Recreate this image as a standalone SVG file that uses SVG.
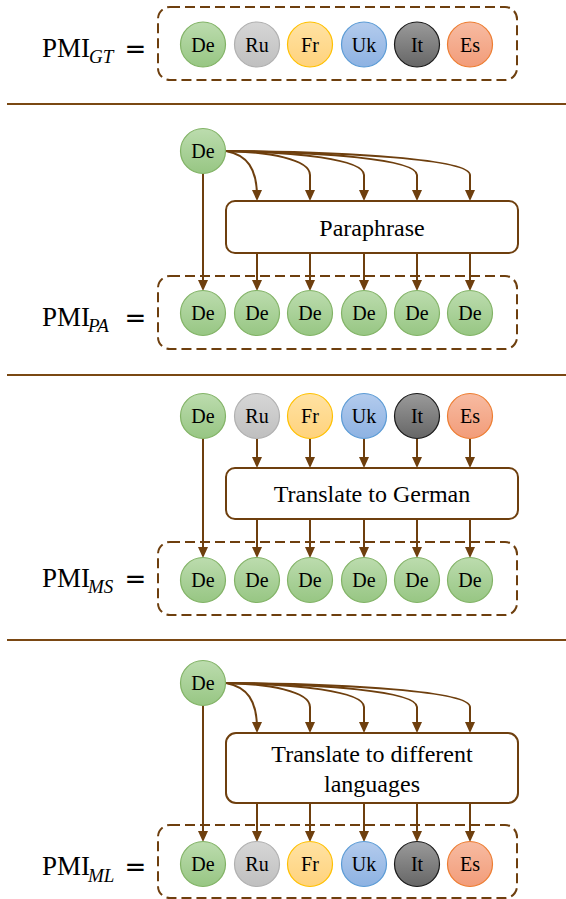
<svg xmlns="http://www.w3.org/2000/svg" width="566" height="899" viewBox="0 0 566 899">
<style>
.sep{stroke:#7a4813;stroke-width:2}
.dash{fill:none;stroke:#6e3f0e;stroke-width:2;stroke-dasharray:10 5}
.box{fill:#fff;stroke:#6e3f0e;stroke-width:2}
.ct{font-family:"Liberation Serif","Times New Roman",serif;font-size:20px;text-anchor:middle;fill:#000}
.bt{font-family:"Liberation Serif","Times New Roman",serif;font-size:24px;text-anchor:middle;fill:#000}
.pmi{font-family:"Liberation Serif","Times New Roman",serif;font-size:27px;fill:#000}
.sub{font-family:"Liberation Serif","Times New Roman",serif;font-size:19px;font-style:italic;fill:#000}
.eq{font-family:"DejaVu Sans",sans-serif;font-size:26px;text-anchor:middle;fill:#000}
.c{stroke-width:1.2}
.de{fill:url(#gDe);stroke:#82b366}
.ru{fill:url(#gRu);stroke:#b0b0b0}
.fr{fill:url(#gFr);stroke:#ffc000}
.uk{fill:url(#gUk);stroke:#5b9bd5}
.it{fill:url(#gIt);stroke:#1a1a1a}
.es{fill:url(#gEs);stroke:#ed7d31}
.ar{fill:none;stroke:#6e3f0e;stroke-width:2;marker-end:url(#ah)}
</style>
<defs>
<linearGradient id="gDe" x1="0" y1="0" x2="0" y2="1"><stop offset="0" stop-color="#bcdcae"/><stop offset="1" stop-color="#97c683"/></linearGradient>
<linearGradient id="gRu" x1="0" y1="0" x2="0" y2="1"><stop offset="0" stop-color="#d6d6d6"/><stop offset="1" stop-color="#bfbfbf"/></linearGradient>
<linearGradient id="gFr" x1="0" y1="0" x2="0" y2="1"><stop offset="0" stop-color="#ffe2a3"/><stop offset="1" stop-color="#ffd27c"/></linearGradient>
<linearGradient id="gUk" x1="0" y1="0" x2="0" y2="1"><stop offset="0" stop-color="#b3cbed"/><stop offset="1" stop-color="#8db2e2"/></linearGradient>
<linearGradient id="gIt" x1="0" y1="0" x2="0" y2="1"><stop offset="0" stop-color="#9a9a9a"/><stop offset="1" stop-color="#666666"/></linearGradient>
<linearGradient id="gEs" x1="0" y1="0" x2="0" y2="1"><stop offset="0" stop-color="#f7bba2"/><stop offset="1" stop-color="#f29c79"/></linearGradient>
<marker id="ah" markerUnits="userSpaceOnUse" markerWidth="12" markerHeight="12" refX="7" refY="5" orient="auto"><path d="M0,0 L11,5 L0,10 z" fill="#6e3f0e"/></marker>
</defs>

<!-- separators -->
<g id="separators">
<line class="sep" x1="7" y1="104" x2="566" y2="104"/>
<line class="sep" x1="7" y1="375" x2="566" y2="375"/>
<line class="sep" x1="7" y1="640" x2="566" y2="640"/>
</g>

<!-- labels -->
<g id="label-gt"><text class="pmi" x="42" y="57">PMI</text><text class="sub" x="89" y="63">GT</text><text class="eq" x="135.5" y="58">=</text></g>
<g id="label-pa"><text class="pmi" x="42" y="326">PMI</text><text class="sub" x="88" y="332">PA</text><text class="eq" x="135.5" y="327">=</text></g>
<g id="label-ms"><text class="pmi" x="42" y="587">PMI</text><text class="sub" x="88" y="593">MS</text><text class="eq" x="135.5" y="588">=</text></g>
<g id="label-ml"><text class="pmi" x="42" y="875">PMI</text><text class="sub" x="88" y="882">ML</text><text class="eq" x="135.5" y="876">=</text></g>

<!-- connectors -->
<g id="connectors">
<!-- section 2 -->
<path class="ar" d="M203,173.5 L203,287"/>
<path class="ar" d="M226,151 C247,155 257,168 257,197"/>
<path class="ar" d="M226,151 C268,152 310,159 310,175 L310,197"/>
<path class="ar" d="M226,151 C295,152 364,159 364,175 L364,197"/>
<path class="ar" d="M226,151 C321,152 417,159 417,175 L417,197"/>
<path class="ar" d="M226,151 C348,152 470,159 470,175 L470,197"/>
<path class="ar" d="M257,253 L257,287"/>
<path class="ar" d="M310,253 L310,287"/>
<path class="ar" d="M364,253 L364,287"/>
<path class="ar" d="M417,253 L417,287"/>
<path class="ar" d="M470,253 L470,287"/>
<!-- section 3 -->
<path class="ar" d="M203,438.5 L203,554"/>
<path class="ar" d="M257,438.5 L257,464"/>
<path class="ar" d="M310,438.5 L310,464"/>
<path class="ar" d="M364,438.5 L364,464"/>
<path class="ar" d="M417,438.5 L417,464"/>
<path class="ar" d="M470,438.5 L470,464"/>
<path class="ar" d="M257,519 L257,554"/>
<path class="ar" d="M310,519 L310,554"/>
<path class="ar" d="M364,519 L364,554"/>
<path class="ar" d="M417,519 L417,554"/>
<path class="ar" d="M470,519 L470,554"/>
<!-- section 4 -->
<path class="ar" d="M203,705.5 L203,838"/>
<path class="ar" d="M226,683 C247,687 257,700 257,729"/>
<path class="ar" d="M226,683 C268,684 310,691 310,707 L310,729"/>
<path class="ar" d="M226,683 C295,684 364,691 364,707 L364,729"/>
<path class="ar" d="M226,683 C321,684 417,691 417,707 L417,729"/>
<path class="ar" d="M226,683 C348,684 470,691 470,707 L470,729"/>
<path class="ar" d="M257,803 L257,838"/>
<path class="ar" d="M310,803 L310,838"/>
<path class="ar" d="M364,803 L364,838"/>
<path class="ar" d="M417,803 L417,838"/>
<path class="ar" d="M470,803 L470,838"/>
</g>

<!-- section 1 -->
<g id="group-gt"><rect class="dash" x="158" y="7" width="359" height="73" rx="12"/></g>
<g id="gt-de"><circle class="c de" cx="203" cy="44.5" r="22.5"/><text class="ct" x="203" y="51.5">De</text></g>
<g id="gt-ru"><circle class="c ru" cx="257" cy="44.5" r="22.5"/><text class="ct" x="257" y="51.5">Ru</text></g>
<g id="gt-fr"><circle class="c fr" cx="310" cy="44.5" r="22.5"/><text class="ct" x="310" y="51.5">Fr</text></g>
<g id="gt-uk"><circle class="c uk" cx="364" cy="44.5" r="22.5"/><text class="ct" x="364" y="51.5">Uk</text></g>
<g id="gt-it"><circle class="c it" cx="417" cy="44.5" r="22.5"/><text class="ct" x="417" y="51.5">It</text></g>
<g id="gt-es"><circle class="c es" cx="470" cy="44.5" r="22.5"/><text class="ct" x="470" y="51.5">Es</text></g>

<!-- section 2 -->
<g id="pa-src"><circle class="c de" cx="203" cy="151" r="22.5"/><text class="ct" x="203" y="158">De</text></g>
<g id="pa-box"><rect class="box" x="226" y="201" width="292" height="52" rx="9"/><text class="bt" x="372" y="236">Paraphrase</text></g>
<g id="group-pa"><rect class="dash" x="158" y="276" width="359" height="73" rx="12"/></g>
<g id="pa-1"><circle class="c de" cx="203" cy="313" r="22.5"/><text class="ct" x="203" y="320">De</text></g>
<g id="pa-2"><circle class="c de" cx="257" cy="313" r="22.5"/><text class="ct" x="257" y="320">De</text></g>
<g id="pa-3"><circle class="c de" cx="310" cy="313" r="22.5"/><text class="ct" x="310" y="320">De</text></g>
<g id="pa-4"><circle class="c de" cx="364" cy="313" r="22.5"/><text class="ct" x="364" y="320">De</text></g>
<g id="pa-5"><circle class="c de" cx="417" cy="313" r="22.5"/><text class="ct" x="417" y="320">De</text></g>
<g id="pa-6"><circle class="c de" cx="470" cy="313" r="22.5"/><text class="ct" x="470" y="320">De</text></g>

<!-- section 3 -->
<g id="ms-de"><circle class="c de" cx="203" cy="416" r="22.5"/><text class="ct" x="203" y="423">De</text></g>
<g id="ms-ru"><circle class="c ru" cx="257" cy="416" r="22.5"/><text class="ct" x="257" y="423">Ru</text></g>
<g id="ms-fr"><circle class="c fr" cx="310" cy="416" r="22.5"/><text class="ct" x="310" y="423">Fr</text></g>
<g id="ms-uk"><circle class="c uk" cx="364" cy="416" r="22.5"/><text class="ct" x="364" y="423">Uk</text></g>
<g id="ms-it"><circle class="c it" cx="417" cy="416" r="22.5"/><text class="ct" x="417" y="423">It</text></g>
<g id="ms-es"><circle class="c es" cx="470" cy="416" r="22.5"/><text class="ct" x="470" y="423">Es</text></g>
<g id="ms-box"><rect class="box" x="226" y="468" width="292" height="51" rx="9"/><text class="bt" x="372" y="502">Translate to German</text></g>
<g id="group-ms"><rect class="dash" x="158" y="542" width="359" height="73" rx="12"/></g>
<g id="ms-1"><circle class="c de" cx="203" cy="580" r="22.5"/><text class="ct" x="203" y="587">De</text></g>
<g id="ms-2"><circle class="c de" cx="257" cy="580" r="22.5"/><text class="ct" x="257" y="587">De</text></g>
<g id="ms-3"><circle class="c de" cx="310" cy="580" r="22.5"/><text class="ct" x="310" y="587">De</text></g>
<g id="ms-4"><circle class="c de" cx="364" cy="580" r="22.5"/><text class="ct" x="364" y="587">De</text></g>
<g id="ms-5"><circle class="c de" cx="417" cy="580" r="22.5"/><text class="ct" x="417" y="587">De</text></g>
<g id="ms-6"><circle class="c de" cx="470" cy="580" r="22.5"/><text class="ct" x="470" y="587">De</text></g>

<!-- section 4 -->
<g id="ml-src"><circle class="c de" cx="203" cy="683" r="22.5"/><text class="ct" x="203" y="690">De</text></g>
<g id="ml-box"><rect class="box" x="226" y="733" width="292" height="70" rx="10"/><text class="bt" x="372" y="762">Translate to different</text><text class="bt" x="372" y="792">languages</text></g>
<g id="group-ml"><rect class="dash" x="158" y="825" width="359" height="73" rx="12"/></g>
<g id="ml-de"><circle class="c de" cx="203" cy="864" r="22.5"/><text class="ct" x="203" y="871">De</text></g>
<g id="ml-ru"><circle class="c ru" cx="257" cy="864" r="22.5"/><text class="ct" x="257" y="871">Ru</text></g>
<g id="ml-fr"><circle class="c fr" cx="310" cy="864" r="22.5"/><text class="ct" x="310" y="871">Fr</text></g>
<g id="ml-uk"><circle class="c uk" cx="364" cy="864" r="22.5"/><text class="ct" x="364" y="871">Uk</text></g>
<g id="ml-it"><circle class="c it" cx="417" cy="864" r="22.5"/><text class="ct" x="417" y="871">It</text></g>
<g id="ml-es"><circle class="c es" cx="470" cy="864" r="22.5"/><text class="ct" x="470" y="871">Es</text></g>
</svg>
